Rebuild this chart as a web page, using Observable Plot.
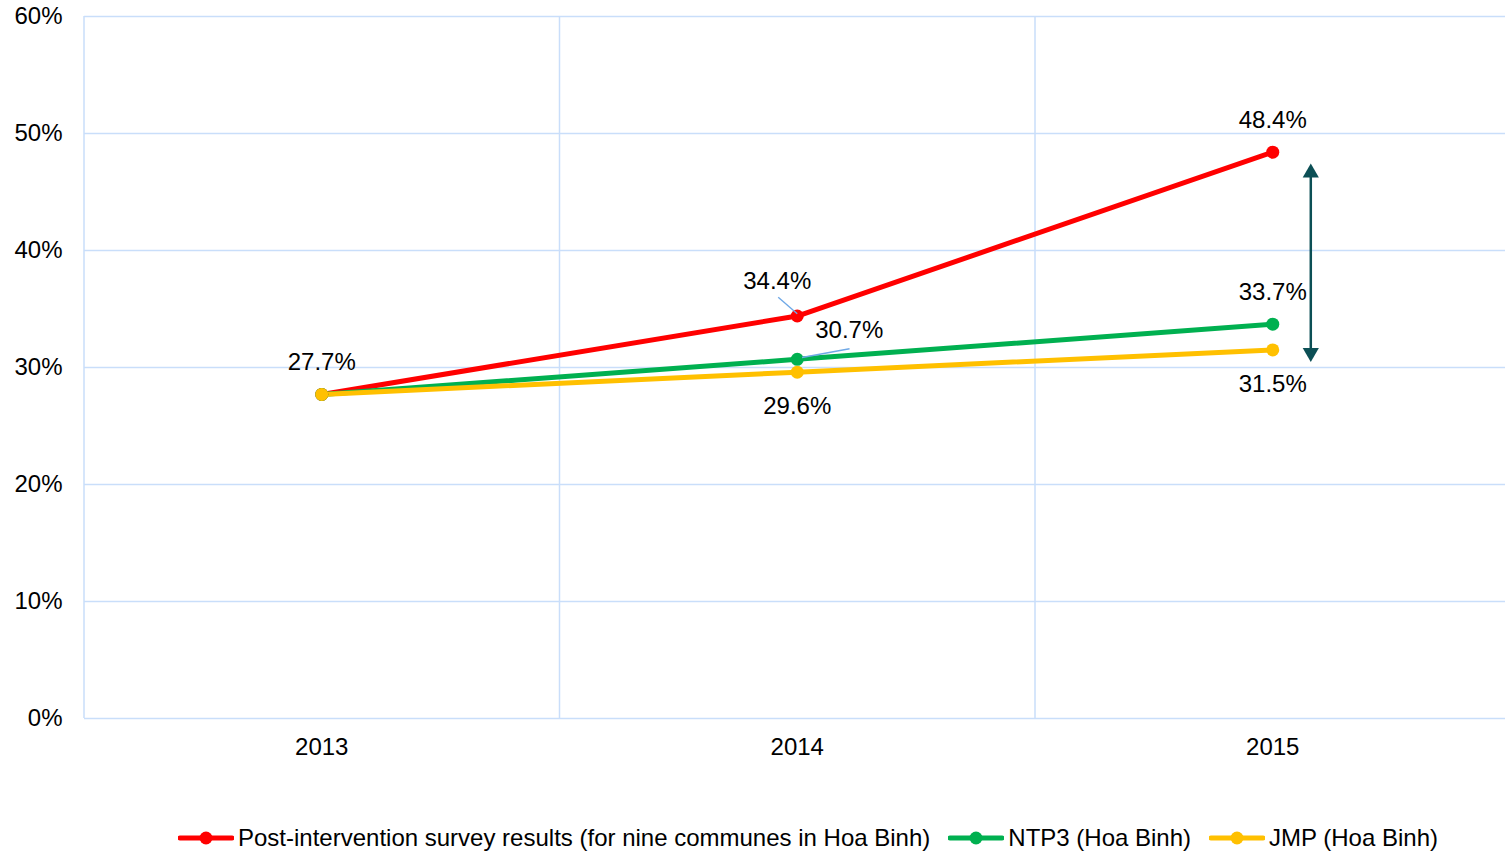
<!DOCTYPE html>
<html>
<head>
<meta charset="utf-8">
<script src="https://cdn.jsdelivr.net/npm/d3@7"></script>
<script src="https://cdn.jsdelivr.net/npm/@observablehq/plot@0.6"></script>
<style>
  html, body { margin: 0; padding: 0; background: #fff; }
  body { width: 1505px; height: 853px; position: relative; overflow: hidden; font-family: "Liberation Sans", Arial, sans-serif; }
  #chart svg { overflow: hidden; }
  #legend { position: absolute; left: 178px; top: 824px; display: flex; align-items: center; font-size: 24px; color: #000; white-space: nowrap; }
  .item { display: flex; align-items: center; margin-right: 18px; }
  .item svg { margin-right: 4px; }
</style>
</head>
<body>
<div id="chart"></div>
<div id="legend"></div>
<script>
// ---- data ----
const years = [2013, 2014, 2015];
const seriesNames = [
  "Post-intervention survey results (for nine communes in Hoa Binh)",
  "NTP3 (Hoa Binh)",
  "JMP (Hoa Binh)"
];
const postIntervention = [27.7, 34.4, 48.4];
const ntp3 = [27.7, 30.7, 33.7];
const jmp = [27.7, 29.6, 31.5];
const seriesColors = ["#ff0000", "#00b050", "#ffc000"];
const yTicks = [0, 10, 20, 30, 40, 50, 60];
const bandEdges = [2012.5, 2013.5, 2014.5, 2015.5];
const gapArrow = [30.5, 47.4]; // arrow span (%), placed just right of 2015
const arrowYear = 2015.08;

const seriesValues = [postIntervention, ntp3, jmp];
const data = [];
seriesNames.forEach((s, i) => years.forEach((y, j) => data.push({series: s, idx: i, year: y, value: seriesValues[i][j]})));
const fmt = v => v.toFixed(1) + "%";

// label groups
const above = data.filter(d => (d.year === 2013 && d.idx === 2) || (d.year === 2015 && d.idx < 2));
const below = data.filter(d => d.idx === 2 && d.year > 2013);
const red2014 = data.filter(d => d.idx === 0 && d.year === 2014);
const green2014 = data.filter(d => d.idx === 1 && d.year === 2014);

// leader lines (data units)
const leaders = [
  {x1: 2013.96, y1: 36.0, x2: 2014.0, y2: 34.6},
  {x1: 2014.01, y1: 30.85, x2: 2014.11, y2: 31.6}
];

const font = "'Liberation Sans', Arial, sans-serif";
const gridColor = "#c9defa";
const arrowColor = "#0c4f55";

const plot = Plot.plot({
  width: 1505,
  height: 800,
  marginTop: 16,
  marginBottom: 82,
  marginLeft: 84,
  marginRight: 0,
  style: {fontFamily: font, fontSize: "24px", color: "#000", background: "#fff"},
  x: {domain: [2012.5, 2015.5], range: [83.5, 1510], label: null},
  y: {domain: [0, 60], label: null},
  marks: [
    Plot.ruleY(yTicks, {stroke: gridColor, strokeWidth: 1.5}),
    Plot.ruleX(bandEdges, {stroke: gridColor, strokeWidth: 1.5}),
    Plot.axisX({ticks: years, tickFormat: d => String(d), tickSize: 0, tickPadding: 19, fontSize: 24, fill: "#000"}),
    Plot.axisY({ticks: yTicks, tickFormat: d => d + "%", tickSize: 0, tickPadding: 22, fontSize: 24, fill: "#000"}),
    ...[0, 1, 2].map(i => Plot.line(data.filter(d => d.idx === i), {x: "year", y: "value", stroke: seriesColors[i], strokeWidth: 5})),
    ...[0, 1, 2].map(i => Plot.dot(data.filter(d => d.idx === i), {x: "year", y: "value", fill: seriesColors[i], r: 6.5})),
    Plot.link(leaders, {x1: "x1", y1: "y1", x2: "x2", y2: "y2", stroke: "#6fa8e6", strokeWidth: 1.4}),
    Plot.text(above, {x: "year", y: "value", text: d => fmt(d.value), dy: -32, fontSize: 24, fill: "#000"}),
    Plot.text(below, {x: "year", y: "value", text: d => fmt(d.value), dy: 34, fontSize: 24, fill: "#000"}),
    Plot.text(red2014, {x: "year", y: "value", text: d => fmt(d.value), dx: -20, dy: -35, fontSize: 24, fill: "#000"}),
    Plot.text(green2014, {x: "year", y: "value", text: d => fmt(d.value), dx: 52, dy: -29, fontSize: 24, fill: "#000"}),
    Plot.ruleX([arrowYear], {y1: gapArrow[1], y2: gapArrow[0], stroke: arrowColor, strokeWidth: 2.5, insetTop: 10, insetBottom: 10}),
    Plot.dot([gapArrow[1]], {x: () => arrowYear, y: d => d, symbol: "triangle", r: 6, fill: arrowColor, dy: 9}),
    Plot.dot([gapArrow[0]], {x: () => arrowYear, y: d => d, symbol: "triangle", r: 6, fill: arrowColor, dy: -9, rotate: 180})
  ]
});
document.getElementById("chart").appendChild(plot);

// legend
const legend = d3.select("#legend");
seriesNames.forEach((s, i) => {
  const item = legend.append("div").attr("class", "item");
  const sw = item.append("svg").attr("width", 56).attr("height", 16);
  sw.append("line").attr("x1", 2).attr("x2", 54).attr("y1", 8).attr("y2", 8).attr("stroke", seriesColors[i]).attr("stroke-width", 5).attr("stroke-linecap", "round");
  sw.append("circle").attr("cx", 28).attr("cy", 8).attr("r", 6.5).attr("fill", seriesColors[i]);
  item.append("span").text(s);
});
</script>
</body>
</html>
